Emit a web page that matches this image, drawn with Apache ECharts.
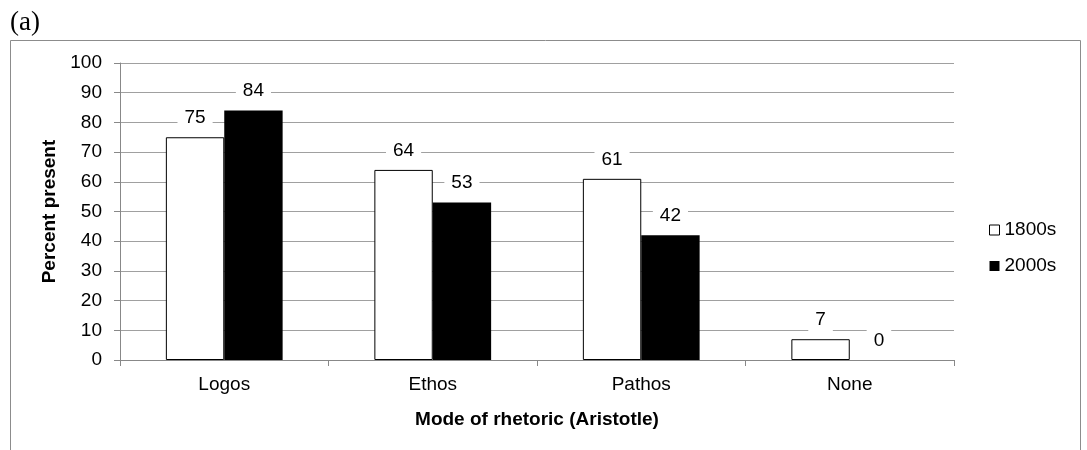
<!DOCTYPE html>
<html>
<head>
<meta charset="utf-8">
<script src="https://cdn.jsdelivr.net/npm/echarts@6/dist/echarts.min.js"></script>
<style>html,body{margin:0;padding:0;background:#fff}#c{width:1087px;height:450px}</style>
</head>
<body>
<div id="c"></div>
<script>
const categories = ['Logos', 'Ethos', 'Pathos', 'None'];
const series1800s = [75, 64, 61, 7];
const series2000s = [84, 53, 42, 0];
const yTicks = [0, 10, 20, 30, 40, 50, 60, 70, 80, 90, 100];

const FONT = '"Liberation Sans", Arial, sans-serif';
const chart = echarts.init(document.getElementById('c'), null, {renderer: 'canvas'});

const labelCfg = {
  show: true, position: 'top', distance: 8,
  color: '#000', fontFamily: FONT, fontSize: 19,
  backgroundColor: '#fff', padding: [2, 7]
};

chart.setOption({
  animation: false,
  backgroundColor: '#fff',
  graphic: [
    {type: 'rect', shape: {x: 10.5, y: 40.5, width: 1070, height: 430}, style: {fill: 'none', stroke: '#8c8c8c', lineWidth: 1}, silent: true, z: -1},
    {type: 'text', left: 10, top: 9, style: {text: '(a)', font: '27px "Liberation Serif", serif', fill: '#000'}}
  ],
  grid: {left: 120, right: 133, top: 63, bottom: 90, containLabel: false},
  legend: {
    orient: 'vertical', left: 984, top: 215.5, itemWidth: 10, itemHeight: 10, itemGap: 17,
    textStyle: {fontFamily: FONT, fontSize: 19, color: '#000'},
    data: [
      {name: '1800s', icon: 'rect', itemStyle: {color: '#fff', borderColor: '#000', borderWidth: 1}},
      {name: '2000s', icon: 'rect', itemStyle: {color: '#000', borderWidth: 0}}
    ]
  },
  xAxis: {
    type: 'category', data: categories,
    name: 'Mode of rhetoric (Aristotle)', nameLocation: 'middle', nameGap: 50,
    nameTextStyle: {fontFamily: FONT, fontSize: 19, fontWeight: 'bold', color: '#000'},
    axisLine: {lineStyle: {color: '#888', width: 1}},
    axisTick: {show: true, length: 6, lineStyle: {color: '#888'}},
    axisLabel: {fontFamily: FONT, fontSize: 19, color: '#000', margin: 15}
  },
  yAxis: {
    type: 'value', min: 0, max: 100, interval: 10,
    name: 'Percent present', nameLocation: 'middle', nameGap: 61,
    nameTextStyle: {fontFamily: FONT, fontSize: 19, fontWeight: 'bold', color: '#000'},
    axisLine: {show: true, lineStyle: {color: '#888', width: 1}},
    axisTick: {show: true, length: 6, lineStyle: {color: '#888'}},
    axisLabel: {fontFamily: FONT, fontSize: 19, color: '#000', margin: 18,
      formatter: v => yTicks.includes(v) ? String(v) : ''},
    splitLine: {show: true, lineStyle: {color: '#a0a0a0', width: 1}}
  },
  series: [
    {name: '1800s', type: 'bar', data: series1800s, barGap: '0%', barCategoryGap: '44%',
     itemStyle: {color: '#fff', borderColor: '#000', borderWidth: 1}, label: labelCfg},
    {name: '2000s', type: 'bar', data: series2000s,
     itemStyle: {color: '#000'}, label: labelCfg}
  ]
});
</script>
</body>
</html>
